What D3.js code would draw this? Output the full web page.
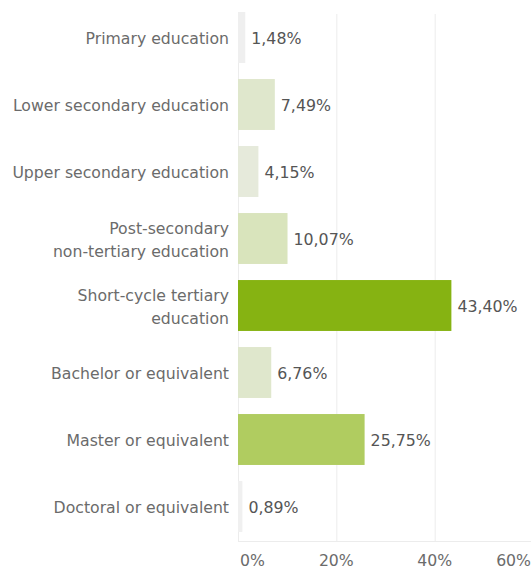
<!DOCTYPE html>
<html>
<head>
<meta charset="utf-8">
<script src="https://cdn.jsdelivr.net/npm/d3@7"></script>
<style>
  body { margin: 0; background: #fff; }
  svg text { font-family: "DejaVu Sans", sans-serif; }
</style>
</head>
<body>
<svg id="chart" width="531" height="570"></svg>
<script>
// education levels (multi-line labels split with |)
const categories = [
    "Primary education",
    "Lower secondary education",
    "Upper secondary education",
    "Post-secondary|non-tertiary education",
    "Short-cycle tertiary|education",
    "Bachelor or equivalent",
    "Master or equivalent",
    "Doctoral or equivalent"
];
const shares = [1.48, 7.49, 4.15, 10.07, 43.40, 6.76, 25.75, 0.89];
const barColors = ["#efefef", "#dfe7cc", "#e6eadb", "#d9e4bc", "#86b312", "#dfe7cc", "#b0cc60", "#f0f0f0"];
const xTicks = [0, 20, 40, 60];

const svg = d3.select("#chart");
const x0 = 238, x1 = 533;
const x = d3.scaleLinear().domain([0, 60]).range([x0, x1]);
const y = d3.scaleBand().domain(categories).range([4, 540]).paddingInner(0.24).paddingOuter(0.12);

const fmt = v => v.toFixed(2).replace(".", ",") + "%";

// grid
const grid = svg.append("g").attr("class", "grid");
grid.selectAll("line")
    .data(xTicks)
    .enter().append("line")
    .attr("x1", d => x(d) + 0.5)
    .attr("x2", d => x(d) + 0.5)
    .attr("y1", 14)
    .attr("y2", 541)
    .attr("stroke", "#ececec")
    .attr("stroke-width", 1);
grid.append("line")
    .attr("x1", x0).attr("x2", 531)
    .attr("y1", 541.5).attr("y2", 541.5)
    .attr("stroke", "#ececec");

// bars
svg.append("g").selectAll("rect")
    .data(shares)
    .enter().append("rect")
    .attr("x", x(0))
    .attr("y", (d, i) => y(categories[i]))
    .attr("width", d => x(d) - x(0))
    .attr("height", y.bandwidth())
    .attr("fill", (d, i) => barColors[i]);

// value labels
svg.append("g").selectAll("text")
    .data(shares)
    .enter().append("text")
    .attr("x", d => x(d) + 6)
    .attr("y", (d, i) => y(categories[i]) + y.bandwidth() / 2)
    .attr("dy", "0.42em")
    .attr("fill", "#555")
    .style("font-size", "15.8px")
    .text(d => fmt(d));

// category labels
const labels = svg.append("g").selectAll("text")
    .data(categories)
    .enter().append("text")
    .attr("text-anchor", "end")
    .attr("fill", "#6b6b6b")
    .style("font-size", "15.7px")
    .attr("transform", d => "translate(229," + (y(d) + y.bandwidth() / 2) + ")");

labels.each(function (d) {
    const lines = d.split("|");
    const t = d3.select(this);
    lines.forEach((ln, j) => {
        t.append("tspan")
            .attr("x", 0)
            .attr("y", (j - (lines.length - 1) / 2) * 23)
            .attr("dy", "0.42em")
            .text(ln);
    });
});

// x axis tick labels (last one pulled inside the edge)
svg.append("g").selectAll("text")
    .data(xTicks)
    .enter().append("text")
    .attr("x", (d, i) => i === 0 ? x(d) + 2 : (i === xTicks.length - 1 ? 531 : x(d)))
    .attr("y", 566)
    .attr("text-anchor", (d, i) => i === 0 ? "start" : (i === xTicks.length - 1 ? "end" : "middle"))
    .attr("fill", "#6b6b6b")
    .style("font-size", "15.7px")
    .text(d => d + "%");
</script>
</body>
</html>
